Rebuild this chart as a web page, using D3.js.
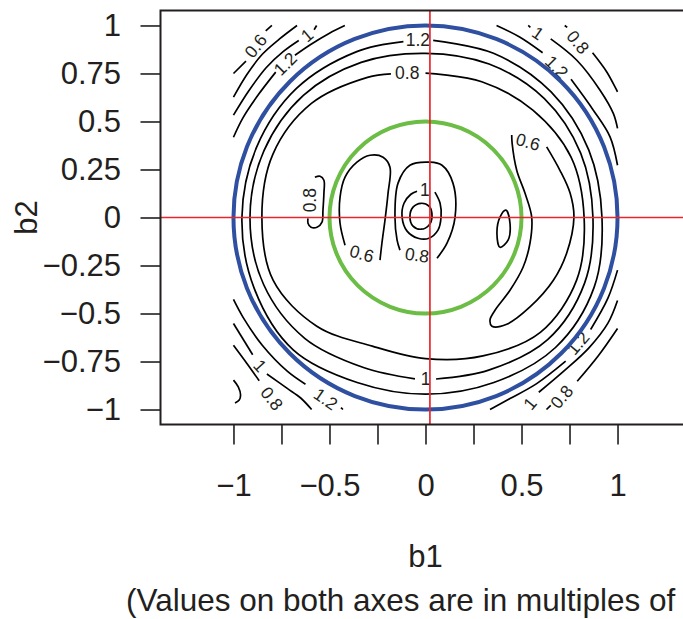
<!DOCTYPE html>
<html>
<head>
<meta charset="utf-8">
<script src="https://cdn.jsdelivr.net/npm/d3@7"></script>
<style>
  body { margin: 0; background: #fff; }
  text { font-family: "Liberation Sans", Arial, Helvetica, sans-serif; fill: #231f20; }
</style>
</head>
<body>
<div id="chart"></div>
<script>
// axes
var b1Ticks = [-1, -0.75, -0.5, -0.25, 0, 0.25, 0.5, 0.75, 1];
var b1TickLabels = [-1, -0.5, 0, 0.5, 1];
var b2Ticks = [-1, -0.75, -0.5, -0.25, 0, 0.25, 0.5, 0.75, 1];
var plotLimB1 = [-1.38, 1.38];
var plotLimB2 = [-1.078, 1.078];

// reference circles and lines
var circleRadii = [1, 0.5];
var refB1 = 0.023, refB2 = 0;

// contour lines as [b1, b2]
// rings round the origin (gap where the label sits)
var ring12 = [[0.04,0.922],[0.354,0.855],[0.654,0.654],[0.850,0.352],[0.919,0],[0.878,-0.364],[0.677,-0.677],[0.356,-0.859],[0,-0.92],[-0.356,-0.859],[-0.689,-0.689],[-0.892,-0.369],[-0.956,0],[-0.880,0.365],[-0.672,0.672],[-0.358,0.864],[-0.115,0.916]];
var ring10 = [[0.055,-0.841],[0.329,-0.795],[0.636,-0.636],[0.828,-0.343],[0.872,0],[0.808,0.335],[0.619,0.619],[0.331,0.799],[0,0.855],[-0.335,0.808],[-0.636,0.636],[-0.841,0.348],[-0.914,0],[-0.843,-0.349],[-0.629,-0.629],[-0.323,-0.781],[-0.055,-0.840]];
var ring08 = [[0.0,0.752],[0.293,0.707],[0.559,0.559],[0.758,0.314],[0.826,0],[0.787,-0.326],[0.598,-0.598],[0.299,-0.721],[0,-0.735],[-0.277,-0.670],[-0.566,-0.566],[-0.793,-0.328],[-0.852,0],[-0.795,0.329],[-0.594,0.594],[-0.302,0.730],[-0.18,0.748]];

// centre
var centre12 = [[0.034,0.007],[0.018,0.059],[-0.023,0.074],[-0.065,0.054],[-0.081,0.007],[-0.065,-0.045],[-0.023,-0.061],[0.018,-0.040]];
var centre10 = [[0.049,0.132],[0.076,0.074],[0.081,0.002],[0.065,-0.066],[0.018,-0.108],[-0.039,-0.108],[-0.096,-0.071],[-0.122,0.002],[-0.112,0.074],[-0.076,0.121],[-0.044,0.137]];
var centre08 = [[0.060,-0.212],[0.112,-0.134],[0.154,0.002],[0.143,0.179],[0.086,0.272],[0.023,0.288],[-0.081,0.272],[-0.143,0.179],[-0.159,0.002],[-0.148,-0.118],[-0.133,-0.170]];
var left06 = [[-0.419,-0.144],[-0.445,-0.030],[-0.445,0.106],[-0.419,0.210],[-0.357,0.288],[-0.289,0.324],[-0.221,0.314],[-0.185,0.262],[-0.195,0.127],[-0.211,-0.014],[-0.227,-0.134],[-0.237,-0.222]];
var left08 = [[-0.576,0.210],[-0.549,0.215],[-0.529,0.194],[-0.529,0.127],[-0.534,0.038],[-0.539,-0.024],[-0.565,-0.051],[-0.596,-0.051],[-0.612,-0.030],[-0.612,-0.004]];
var right06small = [[0.419,0.038],[0.440,-0.030],[0.430,-0.118],[0.388,-0.155],[0.372,-0.082],[0.388,0.002]];
var right06 = [[0.449,0.429],[0.451,0.387],[0.475,0.246],[0.518,0.127],[0.553,0.002],[0.544,-0.134],[0.508,-0.259],[0.440,-0.379],[0.362,-0.483],[0.336,-0.533],[0.346,-0.566],[0.423,-0.556],[0.544,-0.466],[0.666,-0.327],[0.735,-0.186],[0.773,0.002],[0.753,0.127],[0.700,0.246],[0.631,0.368]];

// corners outside the unit circle
var tl06a = [[-1,0.75],[-0.935,0.814]];
var tl06b = [[-0.832,0.972],[-0.8,1.0]];
var tl08 = [[-1,0.627],[-0.93,0.745],[-0.85,0.85],[-0.76,0.93],[-0.669,1.0]];
var tl10a = [[-1,0.533],[-0.92,0.66],[-0.83,0.78],[-0.74,0.865],[-0.66,0.922]];
var tl10b = [[-0.58,0.978],[-0.567,1.0]];
var tl12a = [[-1,0.418],[-0.95,0.52],[-0.87,0.64],[-0.78,0.757]];
var tl12b = [[-0.68,0.845],[-0.6,0.9],[-0.5,0.96],[-0.42,1.0]];
var tr12a = [[0.37,1.0],[0.49,0.94],[0.61,0.858]];
var tr12b = [[0.758,0.72],[0.874,0.559],[0.961,0.42],[1.0,0.272]];
var tr10a = [[0.535,1.0],[0.546,0.99]];
var tr10b = [[0.652,0.93],[0.788,0.819],[0.909,0.663],[0.978,0.542],[1.0,0.464]];
var tr08a = [[0.725,1.0],[0.738,0.99]];
var tr08b = [[0.87,0.858],[0.944,0.758],[1.0,0.654]];
var br12a = [[1.0,-0.274],[0.95,-0.42],[0.86,-0.583]];
var br12b = [[0.73,-0.748],[0.579,-0.865],[0.44,-0.943],[0.336,-1.0]];
var br10 = [[1.0,-0.432],[0.95,-0.55],[0.85,-0.68],[0.72,-0.80],[0.59,-0.91]];
var br08a = [[1.0,-0.578],[0.9,-0.72],[0.79,-0.853]];
var br08b = [[0.652,-0.978],[0.63,-1.0]];
var bl12a = [[-1,-0.427],[-0.95,-0.52],[-0.85,-0.665],[-0.72,-0.80],[-0.625,-0.868]];
var bl12b = [[-0.44,-0.99],[-0.43,-1.0]];
var bl10a = [[-1,-0.552],[-0.9,-0.715]];
var bl10b = [[-0.826,-0.815],[-0.72,-0.89],[-0.65,-0.94],[-0.593,-1.0]];
var bl08 = [[-1,-0.665],[-0.93,-0.76],[-0.866,-0.85]];
var bl06 = [[-1,-0.847],[-0.975,-0.882],[-0.963,-0.925],[-0.97,-0.951],[-0.992,-0.966]];

var openPieces = [ring12, ring10, ring08, centre10, centre08, left06, left08, right06,
  tl06a, tl06b, tl08, tl10a, tl10b, tl12a, tl12b, tr12a, tr12b, tr10a, tr10b, tr08a, tr08b,
  br12a, br12b, br10, br08a, br08b, bl12a, bl12b, bl10a, bl10b, bl08, bl06];
var closedPieces = [centre12, right06small];

// label text, b1, b2, angle
var contourLabels = [
  ["1.2", -0.04, 0.923, 0], ["0.8", -0.095, 0.752, 0], ["1", 0.0, -0.842, 0],
  ["1", -0.003, 0.142, 0], ["0.8", -0.044, -0.196, 8], ["0.6", -0.332, -0.188, 15],
  ["0.8", -0.600, 0.090, -90], ["0.6", 0.534, 0.394, 15],
  ["0.6", -0.884, 0.893, -52], ["1", -0.617, 0.949, -40], ["1.2", -0.73, 0.80, -45],
  ["1.2", 0.683, 0.784, 45], ["1", 0.586, 0.96, 35], ["0.8", 0.794, 0.913, 50],
  ["1.2", 0.794, -0.654, -50], ["1", 0.544, -0.969, -50], ["0.8", 0.709, -0.934, -50],
  ["1.2", -0.52, -0.945, 35], ["1", -0.862, -0.772, 48], ["0.8", -0.80, -0.943, 52]
];

var width = 683, height = 619;
var ink = "#231f20";
var circleColors = ["#2f4fa0", "#6cbd45"];

var svg = d3.select("#chart").append("svg")
  .attr("width", width)
  .attr("height", height);

var x = d3.scaleLinear().domain(plotLimB1).range([160.5, 690.5]);
var y = d3.scaleLinear().domain(plotLimB2).range([424.5, 10.5]);

var fmt = function(d) { return String(d).replace("-", "\u2212"); };

svg.append("defs").append("clipPath").attr("id", "plotclip")
  .append("rect")
  .attr("x", x(plotLimB1[0])).attr("y", y(plotLimB2[1]))
  .attr("width", x(plotLimB1[1]) - x(plotLimB1[0]))
  .attr("height", y(plotLimB2[0]) - y(plotLimB2[1]));

// axes
var xAxis = svg.append("g")
  .attr("transform", "translate(0," + y(plotLimB2[0]) + ")")
  .call(d3.axisBottom(x).tickValues(b1Ticks).tickSize(20).tickPadding(29)
    .tickFormat(function(d) { return b1TickLabels.indexOf(d) >= 0 ? fmt(d) : ""; }));
var yAxis = svg.append("g")
  .attr("transform", "translate(" + x(plotLimB1[0]) + ",0)")
  .call(d3.axisLeft(y).tickValues(b2Ticks).tickSize(20).tickPadding(19.5).tickFormat(fmt));

[xAxis, yAxis].forEach(function(g) {
  g.select(".domain").remove();
  g.attr("font-family", null).attr("font-size", 31).attr("color", ink);
  g.selectAll("line").attr("stroke-width", 1.6);
});

svg.append("text")
  .attr("x", x(0)).attr("y", 567)
  .attr("text-anchor", "middle").attr("font-size", 31)
  .text("b1");
svg.append("text")
  .attr("transform", "translate(37," + y(0) + ") rotate(-90)")
  .attr("text-anchor", "middle").attr("font-size", 31)
  .text("b2");
svg.append("text")
  .attr("x", 126).attr("y", 611)
  .attr("font-size", 31.5)
  .text("(Values on both axes are in multiples of");

var plot = svg.append("g").attr("clip-path", "url(#plotclip)");

var lineOpen = d3.line().x(d => x(d[0])).y(d => y(d[1])).curve(d3.curveCatmullRom);
var lineClosed = d3.line().x(d => x(d[0])).y(d => y(d[1])).curve(d3.curveCatmullRomClosed);

plot.selectAll(".cline").data(openPieces).enter().append("path")
  .attr("class", "cline")
  .attr("d", lineOpen)
  .attr("fill", "none").attr("stroke", "#000").attr("stroke-width", 1.7);
plot.selectAll(".cloop").data(closedPieces).enter().append("path")
  .attr("class", "cloop")
  .attr("d", lineClosed)
  .attr("fill", "none").attr("stroke", "#000").attr("stroke-width", 1.7);

plot.selectAll(".clabel").data(contourLabels).enter().append("text")
  .attr("class", "clabel")
  .attr("transform", d => "translate(" + x(d[1]) + "," + y(d[2]) + ") rotate(" + d[3] + ")")
  .attr("text-anchor", "middle").attr("dy", "0.35em")
  .attr("font-size", 17.5)
  .text(d => d[0]);

plot.selectAll(".refcircle").data(circleRadii).enter().append("ellipse")
  .attr("cx", x(0)).attr("cy", y(0))
  .attr("rx", d => x(d) - x(0)).attr("ry", d => y(0) - y(d))
  .attr("fill", "none")
  .attr("stroke", (d, i) => circleColors[i])
  .attr("stroke-width", 4);

plot.append("line")
  .attr("x1", x(plotLimB1[0])).attr("x2", x(plotLimB1[1]))
  .attr("y1", y(refB2)).attr("y2", y(refB2))
  .attr("stroke", "#e8262c").attr("stroke-width", 1.7);
plot.append("line")
  .attr("x1", x(refB1)).attr("x2", x(refB1))
  .attr("y1", y(plotLimB2[0])).attr("y2", y(plotLimB2[1]))
  .attr("stroke", "#e8262c").attr("stroke-width", 1.7);

// box
svg.append("rect")
  .attr("x", x(plotLimB1[0])).attr("y", y(plotLimB2[1]))
  .attr("width", x(plotLimB1[1]) - x(plotLimB1[0]))
  .attr("height", y(plotLimB2[0]) - y(plotLimB2[1]))
  .attr("fill", "none").attr("stroke", ink).attr("stroke-width", 2);
</script>
</body>
</html>
